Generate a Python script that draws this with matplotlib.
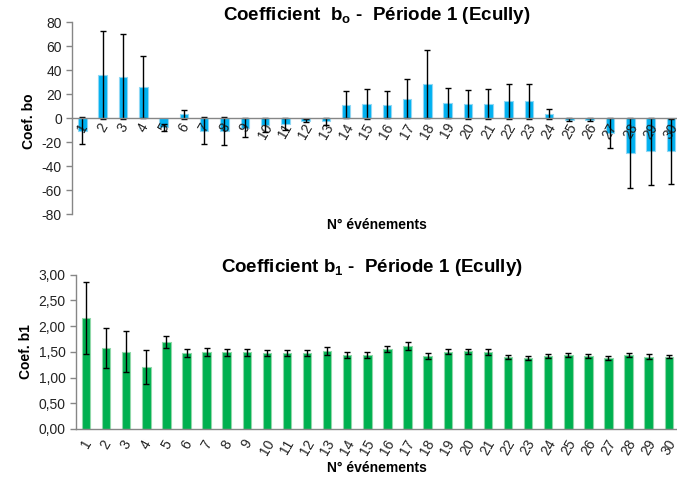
import numpy as np
import matplotlib.pyplot as plt

plt.rcParams['font.family'] = ['Liberation Sans', 'DejaVu Sans']
plt.rcParams['mathtext.fontset'] = 'custom'
plt.rcParams['mathtext.rm'] = 'Liberation Sans'
plt.rcParams['mathtext.bf'] = 'Liberation Sans:bold'
plt.rcParams['axes.unicode_minus'] = False

# ---- data ----
events = list(range(1, 31))

b0 = [-10.5, 35.8, 34.4, 25.6, -7.8, 3.1, -10.5, -11.1, -8.0, -5.8,
      -5.0, -2.2, -2.8, 11.1, 11.7, 11.1, 16.1, 28.3, 12.2, 11.4,
      11.9, 13.9, 13.9, 3.6, -1.4, -1.4, -12.8, -29.4, -27.8, -27.8]
b0_err = [11.0, 36.4, 35.3, 25.8, 3.0, 3.8, 11.0, 11.7, 8.0, 6.0,
          5.0, 1.0, 3.0, 11.4, 12.2, 11.4, 16.4, 28.3, 12.5, 11.9,
          12.5, 14.4, 14.4, 4.2, 1.0, 1.0, 12.5, 29.2, 27.8, 27.2]

b1 = [2.16, 1.58, 1.50, 1.205, 1.69, 1.478, 1.50, 1.49, 1.49, 1.484,
      1.48, 1.48, 1.517, 1.44, 1.44, 1.555, 1.607, 1.413, 1.50, 1.51,
      1.497, 1.393, 1.38, 1.413, 1.432, 1.426, 1.38, 1.445, 1.406, 1.406]
b1_err = [0.70, 0.39, 0.40, 0.33, 0.11, 0.07, 0.08, 0.07, 0.065, 0.06,
          0.06, 0.06, 0.07, 0.05, 0.05, 0.065, 0.075, 0.06, 0.05, 0.05,
          0.05, 0.04, 0.045, 0.04, 0.04, 0.04, 0.04, 0.04, 0.045, 0.035]

W, H = 677, 480
fig = plt.figure(figsize=(W / 100, H / 100), dpi=100)

axis_col = '#868686'
txt_col = '#222222'


def style(ax):
    for s in ['top', 'right']:
        ax.spines[s].set_visible(False)
    for s in ['left', 'bottom']:
        ax.spines[s].set_color(axis_col)
        ax.spines[s].set_linewidth(1.0)
    ax.tick_params(axis='y', colors=axis_col, labelcolor=txt_col, labelsize=10,
                   length=4, width=1.0, direction='out')
    ax.tick_params(axis='x', length=0, labelcolor=txt_col, labelsize=10)
    ax.set_xlim(0.5, 30.5)
    ax.set_xticks(events)
    ax.set_xticklabels([str(e) for e in events], rotation=60, ha='center', va='top')


# ---- top chart : b0 ----
ax1 = fig.add_axes([72.3 / W, 1 - 214 / H, (681 - 72.3) / W, 192 / H])
ax1.spines['bottom'].set_position(('data', 0))
ax1.bar(events, b0, width=0.42, color='#00B0F0', edgecolor='#8FD8F5', linewidth=0.8,
        yerr=b0_err, error_kw=dict(ecolor='black', elinewidth=1.0, capsize=2.5, capthick=1.0))
ax1.set_ylim(-80, 80)
ax1.set_yticks(np.arange(-80, 81, 20))
style(ax1)
ax1.tick_params(axis='x', pad=2)

fig.text(377 / W, 1 - 16 / H, r'Coefficient  $\mathbf{b_o}$ -  Période 1 (Ecully)',
         ha='center', va='center', fontsize=13.5, fontweight='bold', color='black')
fig.text(377 / W, 1 - 225 / H, 'N° événements', ha='center', va='center',
         fontsize=10, fontweight='bold', color='black')
fig.text(29 / W, 1 - 121 / H, 'Coef. bo', ha='center', va='center', rotation=90,
         fontsize=10, fontweight='bold', color='black')

# ---- bottom chart : b1 ----
ax2 = fig.add_axes([76 / W, 1 - 429 / H, (678.8 - 76) / W, 154.3 / H])
ax2.bar(events, b1, width=0.42, color='#00B050', edgecolor='#8FD8A8', linewidth=0.8,
        yerr=b1_err, error_kw=dict(ecolor='black', elinewidth=1.0, capsize=2.5, capthick=1.0))
ax2.set_ylim(0, 3)
ax2.set_yticks(np.arange(0, 3.01, 0.5))
ax2.set_yticklabels([f'{v:.2f}'.replace('.', ',') for v in np.arange(0, 3.01, 0.5)])
style(ax2)
ax2.tick_params(axis='x', pad=6)

fig.text(372 / W, 1 - 268 / H, r'Coefficient $\mathbf{b_1}$ -  Période 1 (Ecully)',
         ha='center', va='center', fontsize=13.5, fontweight='bold', color='black')
fig.text(377 / W, 1 - 468 / H, 'N° événements', ha='center', va='center',
         fontsize=10, fontweight='bold', color='black')
fig.text(26 / W, 1 - 352 / H, 'Coef. b1', ha='center', va='center', rotation=90,
         fontsize=10, fontweight='bold', color='black')

fig.savefig('out.png', dpi=100)
